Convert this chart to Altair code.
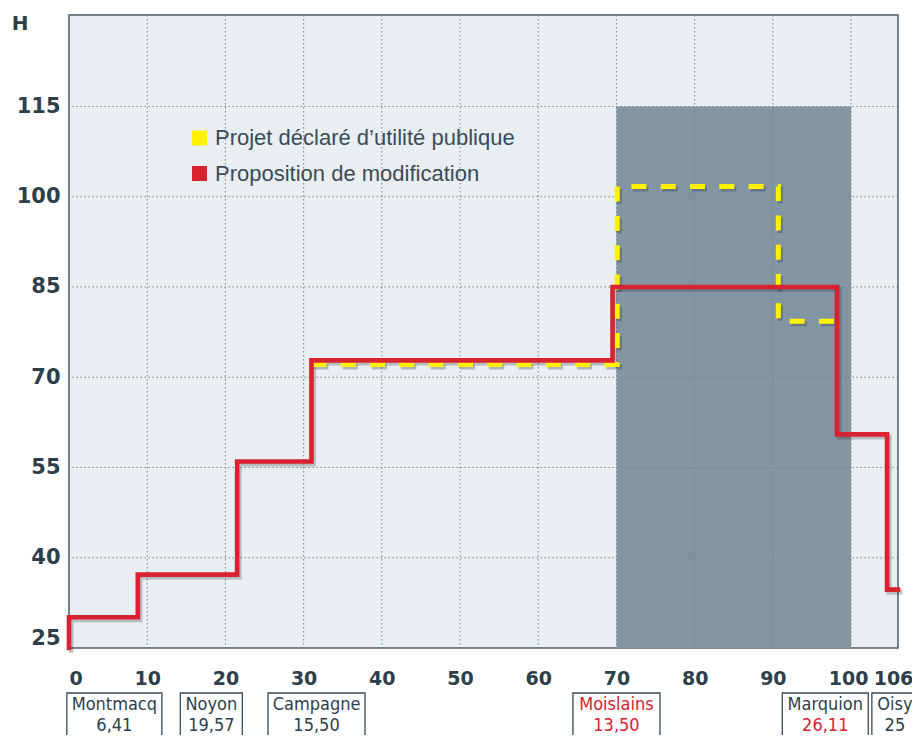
import altair as alt
import pandas as pd

# ---------------- data ----------------
series_names = ["Projet déclaré d’utilité publique", "Proposition de modification"]

# Proposition de modification (red step line): breakpoints (km, height)
red_km = [0, 0, 8.8, 21.5, 31.0, 69.5, 98.2, 104.6, 106]
red_h = [25, 30.1, 37.2, 56.0, 72.8, 85.0, 60.5, 34.7, 34.7]

# Projet déclaré d'utilité publique (yellow dashed step line)
yellow_km = [31.0, 70.1, 90.7, 99.4]
yellow_h = [72.1, 101.7, 79.3, 79.3]

# shaded zone
zone_km = [70, 100]
zone_h = [25, 115]

x_ticks = [0, 10, 20, 30, 40, 50, 60, 70, 80, 90, 100, 106]
y_ticks = [25, 40, 55, 70, 85, 100, 115]
grid_x = [10, 20, 30, 40, 50, 60, 70, 80, 90, 100]
grid_y = [40, 55, 70, 85, 100, 115]

towns = ["Montmacq", "Noyon", "Campagne", "Moislains", "Marquion", "Oisy"]
town_values = ["6,41", "19,57", "15,50", "13,50", "26,11", "25"]
town_km = [5.8, 18.2, 31.65, 70.0, 96.7, 105.6]
name_highlight = [False, False, False, True, False, False]
value_highlight = [False, False, False, True, True, False]

# ---------------- layout / style ----------------
W, H = 829, 633
X_DOMAIN = [0, 106]
Y_DOMAIN = [25, 130.2]
PX_PER_KM = W / (X_DOMAIN[1] - X_DOMAIN[0])
box_width_px = [95, 62, 97, 87, 86, 46]
legend_y_px = [123, 158.5]

DARK = "#2e3f4c"
RED = "#d7222f"
YELLOW = "#fff200"
ZONE = "#8395a2"
BG = "#e8eef1"
GRID = "#74858f"
TOWN_FONT = "'Liberation Sans Narrow', 'DejaVu Sans Condensed', 'Roboto Condensed', Roboto, sans-serif"

x_axis = alt.Axis(
    values=x_ticks, grid=False, ticks=False, domain=False, title=None,
    labelFont="DejaVu Sans", labelFontWeight="bold", labelFontSize=19,
    labelColor=DARK, labelPadding=21, labelOverlap=False, labelBound=False,
    labelAlign={"expr": "datum.value == 0 ? 'left' : 'center'"},
    labelOffset={"expr": "datum.value == 106 ? -5 : (datum.value == 100 ? -3 : 0)"},
)
y_axis = alt.Axis(
    values=y_ticks, grid=False, ticks=False, domain=False,
    labelFont="DejaVu Sans", labelFontWeight="bold", labelFontSize=21,
    labelColor=DARK, labelPadding=9, labelOverlap=False,
    labelBaseline={"expr": "datum.value == 25 ? 'bottom' : 'middle'"},
    title="H", titleAngle=0, titleX=-49.5, titleY=8, titleAlign="center",
    titleBaseline="middle", titleFont="DejaVu Sans", titleFontSize=20,
    titleFontWeight="bold", titleColor=DARK,
)
xs = alt.Scale(domain=X_DOMAIN, nice=False, zero=False)
ys = alt.Scale(domain=Y_DOMAIN, nice=False, zero=False)


def X(field, **kw):
    return alt.X(field, type="quantitative", scale=xs, axis=x_axis, **kw)


def Y(field, **kw):
    return alt.Y(field, type="quantitative", scale=ys, axis=y_axis, **kw)


red_df = pd.DataFrame({"km": red_km, "h": red_h, "i": range(len(red_km))})
yel_df = pd.DataFrame({"km": yellow_km, "h": yellow_h, "i": range(len(yellow_km))})
zone_df = pd.DataFrame({"x1": [zone_km[0]], "x2": [zone_km[1]], "y1": [zone_h[0]], "y2": [zone_h[1]]})
gx_df = pd.DataFrame({"km": grid_x})
gy_df = pd.DataFrame({"h": grid_y})

town_df = pd.DataFrame({
    "town": towns, "value": town_values, "km": town_km,
    "name_col": [RED if f else DARK for f in name_highlight],
    "value_col": [RED if f else DARK for f in value_highlight],
    "half": [w / 2 / PX_PER_KM for w in box_width_px],
})
town_df["lo"] = town_df["km"] - town_df["half"]
town_df["hi"] = town_df["km"] + town_df["half"]

zone = alt.Chart(zone_df).mark_rect(color=ZONE).encode(
    x=X("x1"), x2="x2", y=Y("y1"), y2="y2"
)
grid_v = alt.Chart(gx_df).mark_rule(color=GRID, strokeWidth=1, strokeDash=[1.5, 2.5]).encode(
    x=X("km")
)
grid_h = alt.Chart(gy_df).mark_rule(color=GRID, strokeWidth=1, strokeDash=[1.5, 2.5]).encode(
    y=Y("h")
)

red_shadow = alt.Chart(red_df).mark_line(
    interpolate="step-after", color="#1d2a33", opacity=0.25, strokeWidth=5,
    xOffset=2, yOffset=2.5, strokeCap="square"
).encode(x=X("km"), y=Y("h"), order="i:Q")
red_line = alt.Chart(red_df).mark_line(
    interpolate="step-after", color=RED, strokeWidth=4.6, strokeCap="square"
).encode(x=X("km"), y=Y("h"), order="i:Q")

yel_shadow = alt.Chart(yel_df).mark_line(
    interpolate="step-after", color="#1d2a33", opacity=0.28, strokeWidth=5,
    strokeDash=[15, 14.3], xOffset=2, yOffset=2.5
).encode(x=X("km"), y=Y("h"), order="i:Q")
yel_line = alt.Chart(yel_df).mark_line(
    interpolate="step-after", color=YELLOW, strokeWidth=5, strokeDash=[15, 14.3]
).encode(x=X("km"), y=Y("h"), order="i:Q")

legend_layers = []
for name, col, ypx in zip(series_names, [YELLOW, RED], legend_y_px):
    d = pd.DataFrame({"label": [name]})
    legend_layers.append(
        alt.Chart(d).mark_square(size=225, opacity=1, color=col).encode(
            x=alt.value(130.5), y=alt.value(ypx)
        )
    )
    legend_layers.append(
        alt.Chart(d).mark_text(
            align="left", baseline="middle", font="Liberation Sans",
            fontSize=22, color="#3b4c59"
        ).encode(x=alt.value(146), y=alt.value(ypx), text="label:N")
    )

boxes = alt.Chart(town_df).mark_rect(
    fill="white", stroke="#3a4a57", strokeWidth=1.3, clip=False
).encode(x=X("lo"), x2="hi", y=alt.value(678), y2=alt.value(760))
names = alt.Chart(town_df).mark_text(
    font=TOWN_FONT, fontSize=18, baseline="alphabetic", align="center"
).encode(x=X("km"), y=alt.value(695), text="town:N", color=alt.Color("name_col:N", scale=None))
vals = alt.Chart(town_df).mark_text(
    font=TOWN_FONT, fontSize=18, baseline="alphabetic", align="center"
).encode(x=X("km"), y=alt.value(716), text="value:N", color=alt.Color("value_col:N", scale=None))

chart = alt.layer(
    zone, grid_v, grid_h, yel_shadow, red_shadow, yel_line, red_line,
    *legend_layers, boxes, names, vals
).properties(
    width=W, height=H,
    autosize=alt.AutoSizeParams(type="none"),
    padding={"left": 61, "top": 7, "right": 14, "bottom": 87},
).configure_view(
    fill=BG, stroke="#4d5d69", strokeWidth=1.5
)

chart.save("out.html", embed_options={"renderer": "svg", "actions": False})
